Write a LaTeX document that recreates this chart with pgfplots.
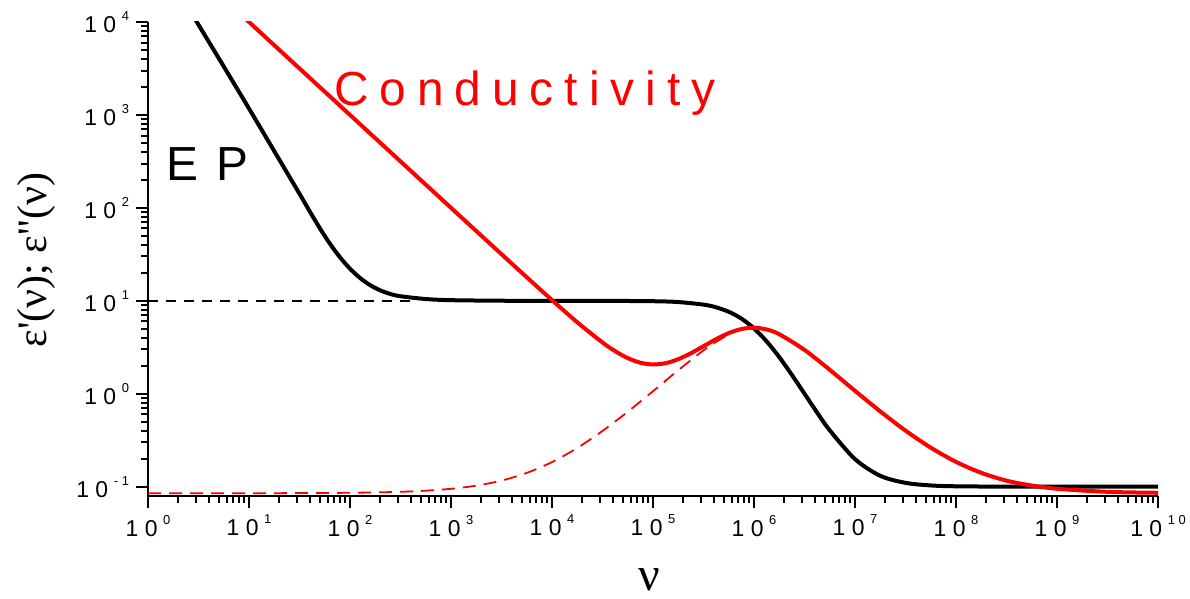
\documentclass[border=0pt]{standalone}
\usepackage{fontspec}
\setmainfont{Liberation Sans}
\newfontfamily\sg{Liberation Serif}
\usepackage{pgfplots}
\pgfplotsset{compat=1.18}
% Origin-style decade label: spaced "1 0" with a small raised exponent
\newcommand{\dec}[1]{1 0\hspace{2.8bp}\raisebox{6bp}{\fontsize{6.5}{6.5}\selectfont #1}}

\begin{document}
\begin{tikzpicture}[x=1bp,y=1bp]
\useasboundingbox (-74,-51) rectangle (521,248);
\begin{axis}[
  at={(0,0)}, anchor=south west,
  scale only axis, width=505bp, height=237bp,
  xmode=log, ymode=log,
  xmin=1, xmax=1e10, ymin=0.0794, ymax=1e4,
  axis x line=bottom, axis y line=left,
  axis line style={-, line width=1.2bp},
  tick align=outside,
  major tick length=6bp, minor tick length=3.5bp,
  every tick/.style={black, line width=1bp},
  xtick={1,10,100,1e3,1e4,1e5,1e6,1e7,1e8,1e9,1e10},
  xticklabels={\dec{0},\dec{1},\dec{2},\dec{3},\dec{4},\dec{5},\dec{6},\dec{7},\dec{8},\dec{9},\dec{1 0}},
  ytick={0.1,1,10,100,1e3,1e4},
  yticklabels={\dec{- 1},\dec{0},\dec{1},\dec{2},\dec{3},\dec{4}},
  tick label style={font=\fontsize{11.5}{12}\selectfont},
]
  % reference level of the plateau
  \addplot[black, line width=0.9bp, dash pattern=on 5bp off 4bp]
    coordinates {(1,10) (450,10)};
  % loss peak without conductivity
  \addplot[red, line width=0.9bp, dash pattern=on 6.5bp off 4bp, smooth]
    coordinates {
      (1,0.085) (10,0.085) (100,0.086) (316.2,0.0881) (562.3,0.0906)
      (1000,0.0949) (1778,0.1026) (3162,0.1163) (5623,0.1407)
      (1e4,0.184) (1.778e4,0.261) (3.162e4,0.398) (5.623e4,0.640)
      (1e5,1.065) (1.778e5,1.792) (3.162e5,2.931) (4.217e5,3.63) (5.623e5,4.315)
    };
  % eps'
  \addplot[black, line width=2bp, smooth]
    coordinates {
      (2.512,14135) (3.162,9343) (5.623,3321) (10,1171) (17.78,408.1)
      (31.62,141.8) (39.81,92.2) (50.12,60.7) (63.10,41.3) (79.43,29.5)
      (100,22.16) (125.9,17.59) (158.5,14.73) (199.5,12.95) (251.2,11.84)
      (316.2,11.20) (562.3,10.45) (1000,10.16) (3162,10.02)
      (1e4,10.0) (3.162e4,9.99) (1e5,9.90) (1.778e5,9.70) (3.162e5,9.10)
      (4.217e5,8.51) (5.623e5,7.62) (7.499e5,6.44) (1e6,5.05)
      (1.334e6,3.66) (1.778e6,2.48) (2.371e6,1.595) (3.162e6,1.0)
      (4.217e6,0.627) (5.623e6,0.404) (1e7,0.198) (1.778e7,0.131)
      (3.162e7,0.110) (5.623e7,0.1031) (1e8,0.101) (3.162e8,0.1001)
      (1e9,0.1) (1e10,0.1)
    };
  % eps''
  \addplot[red, line width=2bp, smooth]
    coordinates {
      (7.943,12590) (10,10000) (31.62,3162) (100,1000) (316.2,316.3)
      (1000,100.1) (3162,31.74) (5623,17.92) (1e4,10.18) (1.778e4,5.88)
      (3.162e4,3.56) (4.217e4,2.873) (5.623e4,2.418) (7.499e4,2.157)
      (1e5,2.065) (1.334e5,2.133) (1.778e5,2.354) (2.371e5,2.729)
      (3.162e5,3.247) (4.217e5,3.867) (5.623e5,4.493) (7.499e5,4.971)
      (1e6,5.135) (1.334e6,4.914) (1.778e6,4.371) (3.162e6,2.963)
      (5.623e6,1.810) (1e7,1.075) (1.778e7,0.646) (3.162e7,0.401)
      (5.623e7,0.263) (1e8,0.185) (1.778e8,0.141) (3.162e8,0.116)
      (5.623e8,0.103) (1e9,0.095) (3.162e9,0.088) (1e10,0.086)
    };
\end{axis}

\node[anchor=base west, inner sep=0, text=red,
      font=\fontsize{24}{24}\selectfont\addfontfeature{LetterSpace=23}]
  at (92.8,195.5) {Conductivity};
\node[anchor=base west, inner sep=0,
      font=\fontsize{24}{24}\selectfont\addfontfeature{LetterSpace=38}]
  at (9,158) {EP};
\node[anchor=base, inner sep=0, font=\sg\fontsize{24}{24}\selectfont]
  at (250.5,-47) {ν};
\node[rotate=90, inner sep=0, font=\sg\fontsize{21}{21}\selectfont]
  at (-56,118) {ε\textquotesingle(ν);\ ε\textquotesingle\kern0.4bp\textquotesingle(ν)};
\end{tikzpicture}
\end{document}
